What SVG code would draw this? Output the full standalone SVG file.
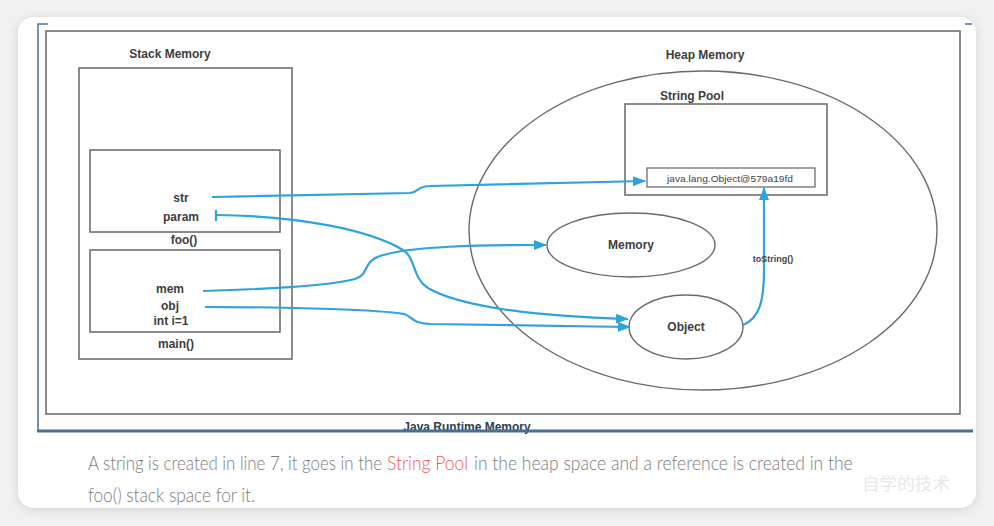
<svg xmlns="http://www.w3.org/2000/svg" width="994" height="526" viewBox="0 0 994 526">
<defs>
<filter id="sh" x="-5%" y="-5%" width="110%" height="115%">
<feDropShadow dx="0" dy="2" stdDeviation="5" flood-color="#000" flood-opacity="0.13"/>
</filter>
<marker id="ah" markerUnits="userSpaceOnUse" markerWidth="14" markerHeight="12" refX="12" refY="5" orient="auto">
<path d="M0,0 L13,5 L0,10 Z" fill="#2ea3dc"/>
</marker>
<style>
.box{fill:none;stroke:#6f6f6f;stroke-width:1.6}
.ell{fill:none;stroke:#6a6a6a;stroke-width:1.4}
.lbl{font-family:"Liberation Sans",Arial,sans-serif;font-weight:bold;font-size:12px;fill:#3d3d3d;text-anchor:middle}
.con{fill:none;stroke:#2ea3dc;stroke-width:2.2}
.cap{font-family:Lato,"Open Sans",sans-serif;font-weight:300;font-size:20px;fill:#7b7b7b}
</style>
</defs>
<rect x="0" y="0" width="994" height="526" fill="#f1f1f1"/>
<rect x="18" y="17" width="958" height="491" rx="16" fill="#ffffff" filter="url(#sh)"/>

<g id="frame">
<rect x="46" y="31" width="914" height="383" class="box"/>
<text x="467" y="431" class="lbl" style="fill:#2c3e50">Java Runtime Memory</text>
<path d="M48,24 L38,24 L38,431" fill="none" stroke="#4f7aa3" stroke-width="1.6"/>
<line x1="37" y1="431" x2="973" y2="431" stroke="#4a6f93" stroke-width="3"/>
<line x1="965" y1="24" x2="972" y2="24" stroke="#4f7aa3" stroke-width="1.6"/>
</g>

<g id="stack">
<text x="170" y="58" class="lbl">Stack Memory</text>
<rect x="79" y="68" width="213" height="291" class="box"/>
</g>
<g id="foo">
<rect x="90" y="150" width="190" height="82" class="box"/>
<text x="181" y="202" class="lbl">str</text>
<text x="181" y="221" class="lbl">param</text>
<text x="184" y="244" class="lbl">foo()</text>
</g>
<g id="main">
<rect x="90" y="250" width="190" height="82" class="box"/>
<text x="170" y="293" class="lbl">mem</text>
<text x="170" y="310" class="lbl">obj</text>
<text x="171" y="325" class="lbl">int i=1</text>
<text x="176" y="348" class="lbl">main()</text>
</g>

<g id="heap">
<text x="705" y="59" class="lbl">Heap Memory</text>
<ellipse cx="703" cy="230.5" rx="234" ry="159.5" class="ell"/>
</g>
<g id="stringpool">
<text x="692" y="100" class="lbl">String Pool</text>
<rect x="625" y="104" width="202" height="91" class="box"/>
</g>
<g id="strobj">
<rect x="647" y="168" width="168" height="19" class="box" style="stroke-width:1.3"/>
<text x="730" y="181.5" font-family="Liberation Sans, Arial, sans-serif" font-size="9.5" fill="#444" text-anchor="middle" textLength="126" lengthAdjust="spacingAndGlyphs">java.lang.Object@579a19fd</text>
</g>
<g id="memory">
<ellipse cx="631" cy="245" rx="84" ry="32" class="ell"/>
<text x="631" y="249" class="lbl">Memory</text>
</g>
<g id="object">
<ellipse cx="686" cy="327" rx="57" ry="32" class="ell"/>
<text x="686" y="331" class="lbl">Object</text>
</g>

<g id="connectors">
<path class="con" marker-end="url(#ah)" d="M212,197 L410,193 C419,192 417,186 430,186 L645,181"/>
<path class="con" d="M216,210 L216,221"/>
<path class="con" marker-end="url(#ah)" d="M216,215 C300,216 370,230 403,250 C416,258 412,278 428,288 C455,304 520,316 628,319"/>
<path class="con" marker-end="url(#ah)" d="M203,291 C270,289 330,286 355,279 C370,274 362,262 380,256 C410,246 480,245 546,245"/>
<path class="con" marker-end="url(#ah)" d="M205,307 C300,307 380,310 404,314 C414,317 410,323 430,324 L630,327"/>
<path class="con" marker-end="url(#ah)" d="M743,325 C760,318 764,300 764,270 L764,188"/>
<text x="773" y="261.5" font-family="Liberation Sans, Arial, sans-serif" font-size="9" font-weight="bold" fill="#444" text-anchor="middle">toString()</text>
</g>

<g id="caption" transform="scale(0.75,1)">
<text x="117.3" y="470" class="cap" textLength="392" lengthAdjust="spacingAndGlyphs">A string is created in line 7, it goes in the</text>
<text x="516" y="470" class="cap" style="fill:#ef5a50" textLength="108" lengthAdjust="spacingAndGlyphs">String Pool</text>
<text x="632" y="470" class="cap" textLength="505" lengthAdjust="spacingAndGlyphs">in the heap space and a reference is created in the</text>
<text x="117.3" y="502" class="cap" textLength="222.7" lengthAdjust="spacingAndGlyphs">foo() stack space for it.</text>
</g>
<g id="watermark">
<text x="862" y="490" font-family="Noto Sans CJK SC, sans-serif" font-size="17" fill="#e8e8e8" textLength="88" lengthAdjust="spacingAndGlyphs">自学的技术</text>
</g>
</svg>
